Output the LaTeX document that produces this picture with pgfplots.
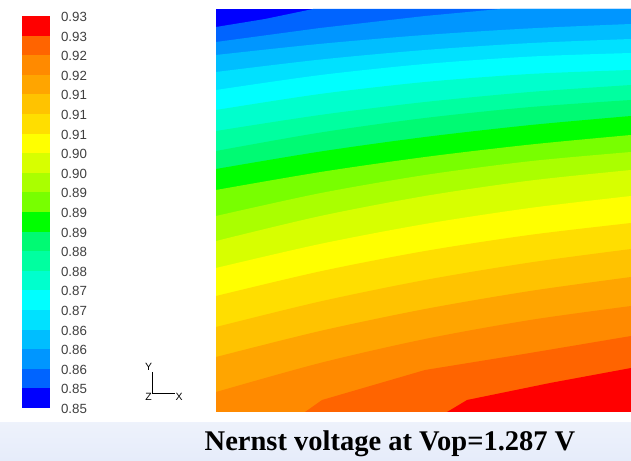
\documentclass[border=0pt]{standalone}
\usepackage{pgfplots}
\pgfplotsset{compat=1.18}
\usepackage{fontspec}
\setmainfont{Liberation Serif}
\setsansfont{Liberation Sans}
\definecolor{c0}{RGB}{0,0,255}
\definecolor{c1}{RGB}{0,100,255}
\definecolor{c2}{RGB}{0,150,255}
\definecolor{c3}{RGB}{0,190,255}
\definecolor{c4}{RGB}{0,225,255}
\definecolor{c5}{RGB}{0,255,255}
\definecolor{c6}{RGB}{0,255,205}
\definecolor{c7}{RGB}{0,255,160}
\definecolor{c8}{RGB}{0,250,115}
\definecolor{c9}{RGB}{0,255,0}
\definecolor{c10}{RGB}{120,255,0}
\definecolor{c11}{RGB}{170,255,0}
\definecolor{c12}{RGB}{215,255,0}
\definecolor{c13}{RGB}{255,255,0}
\definecolor{c14}{RGB}{255,222,0}
\definecolor{c15}{RGB}{255,195,0}
\definecolor{c16}{RGB}{255,165,0}
\definecolor{c17}{RGB}{255,138,0}
\definecolor{c18}{RGB}{255,100,0}
\definecolor{c19}{RGB}{255,0,0}
\definecolor{bgblue}{RGB}{230,236,250}
\begin{document}
\begin{tikzpicture}[x=1pt,y=1pt]
\path[use as bounding box] (0,0) rectangle (631,460);
\fill[white] (0,0) rectangle (631,460);
\shade[top color=bgblue!70!white, bottom color=bgblue] (0,0) rectangle (631,37);
% colour scale
\begin{axis}[at={(22pt,52pt)}, anchor=south west, width=28pt, height=392pt, scale only axis,
  xmin=0, xmax=1, ymin=0, ymax=20,
  axis line style={draw=none}, tick style={draw=none}, major tick length=0pt,
  xtick=\empty, ytick={0,1,...,20}, yticklabel pos=right,
  yticklabels={0.85,0.85,0.86,0.86,0.86,0.87,0.87,0.88,0.88,0.89,0.89,0.89,0.90,0.90,0.91,0.91,0.91,0.92,0.92,0.93,0.93},
  yticklabel style={anchor=west, xshift=7.5pt, yshift=-1pt, font=\sffamily\fontsize{13.3}{14}\selectfont, text=black!75}]
\addplot[fill=c0,draw=none] coordinates {(0,0) (1,0) (1,1) (0,1)} -- cycle;
\addplot[fill=c1,draw=none] coordinates {(0,1) (1,1) (1,2) (0,2)} -- cycle;
\addplot[fill=c2,draw=none] coordinates {(0,2) (1,2) (1,3) (0,3)} -- cycle;
\addplot[fill=c3,draw=none] coordinates {(0,3) (1,3) (1,4) (0,4)} -- cycle;
\addplot[fill=c4,draw=none] coordinates {(0,4) (1,4) (1,5) (0,5)} -- cycle;
\addplot[fill=c5,draw=none] coordinates {(0,5) (1,5) (1,6) (0,6)} -- cycle;
\addplot[fill=c6,draw=none] coordinates {(0,6) (1,6) (1,7) (0,7)} -- cycle;
\addplot[fill=c7,draw=none] coordinates {(0,7) (1,7) (1,8) (0,8)} -- cycle;
\addplot[fill=c8,draw=none] coordinates {(0,8) (1,8) (1,9) (0,9)} -- cycle;
\addplot[fill=c9,draw=none] coordinates {(0,9) (1,9) (1,10) (0,10)} -- cycle;
\addplot[fill=c10,draw=none] coordinates {(0,10) (1,10) (1,11) (0,11)} -- cycle;
\addplot[fill=c11,draw=none] coordinates {(0,11) (1,11) (1,12) (0,12)} -- cycle;
\addplot[fill=c12,draw=none] coordinates {(0,12) (1,12) (1,13) (0,13)} -- cycle;
\addplot[fill=c13,draw=none] coordinates {(0,13) (1,13) (1,14) (0,14)} -- cycle;
\addplot[fill=c14,draw=none] coordinates {(0,14) (1,14) (1,15) (0,15)} -- cycle;
\addplot[fill=c15,draw=none] coordinates {(0,15) (1,15) (1,16) (0,16)} -- cycle;
\addplot[fill=c16,draw=none] coordinates {(0,16) (1,16) (1,17) (0,17)} -- cycle;
\addplot[fill=c17,draw=none] coordinates {(0,17) (1,17) (1,18) (0,18)} -- cycle;
\addplot[fill=c18,draw=none] coordinates {(0,18) (1,18) (1,19) (0,19)} -- cycle;
\addplot[fill=c19,draw=none] coordinates {(0,19) (1,19) (1,20) (0,20)} -- cycle;
\end{axis}
% contour field
\begin{axis}[at={(216pt,48pt)}, anchor=south west, width=415pt, height=403pt, scale only axis,
  xmin=0, xmax=415, ymin=0, ymax=403, hide axis, clip=true]
\addplot[fill=c0,draw=none] coordinates {(0,0) (0,403) (415,403) (415,0)} -- cycle;
\addplot[fill=c1,draw=none] coordinates {(0,385) (49,393) (97,403) (415,403)} \closedcycle;
\addplot[fill=c2,draw=none] coordinates {(0,370) (104,384) (209,396) (284,403) (415,403)} \closedcycle;
\addplot[fill=c3,draw=none,smooth] coordinates {(0,357) (104,368.1) (209,377) (314,383.6) (415,388)} \closedcycle;
\addplot[fill=c4,draw=none,smooth] coordinates {(0,340) (104,352.4) (209,362) (314,368.9) (415,373)} \closedcycle;
\addplot[fill=c5,draw=none,smooth] coordinates {(0,322) (104,336.9) (209,348) (314,355.4) (415,359)} \closedcycle;
\addplot[fill=c6,draw=none,smooth] coordinates {(0,302) (104,318) (209,330) (314,338) (415,342)} \closedcycle;
\addplot[fill=c7,draw=none,smooth] coordinates {(0,281) (104,297) (209,310) (314,320) (415,327)} \closedcycle;
\addplot[fill=c8,draw=none,smooth] coordinates {(0,261) (104,279.4) (209,294) (314,304.9) (415,312)} \closedcycle;
\addplot[fill=c9,draw=none,smooth] coordinates {(0,243) (104,260.4) (209,275) (314,286.9) (415,296)} \closedcycle;
\addplot[fill=c10,draw=none,smooth] coordinates {(0,222) (104,239.9) (209,255) (314,267.4) (415,277)} \closedcycle;
\addplot[fill=c11,draw=none,smooth] coordinates {(0,196) (104,218.8) (209,237) (314,250.8) (415,260)} \closedcycle;
\addplot[fill=c12,draw=none,smooth] coordinates {(0,171) (104,195.9) (209,216) (314,231.4) (415,242)} \closedcycle;
\addplot[fill=c13,draw=none,smooth] coordinates {(0,144) (104,168) (209,188) (314,204) (415,216)} \closedcycle;
\addplot[fill=c14,draw=none,smooth] coordinates {(0,116) (104,140.6) (209,161) (314,177.1) (415,189)} \closedcycle;
\addplot[fill=c15,draw=none,smooth] coordinates {(0,85) (104,110.5) (209,132) (314,149.5) (415,163)} \closedcycle;
\addplot[fill=c16,draw=none,smooth] coordinates {(0,55) (104,81) (209,103) (314,121) (415,135)} \closedcycle;
\addplot[fill=c17,draw=none,smooth] coordinates {(0,20) (104,49) (209,73) (314,92) (415,106)} \closedcycle;
\addplot[fill=c18,draw=none] coordinates {(89,0) (106,12) (209,42) (314,59) (415,76)} \closedcycle;
\addplot[fill=c19,draw=none] coordinates {(231,0) (251,12) (334,29) (415,44)} \closedcycle;
\end{axis}
% coordinate triad
\draw[black, line width=0.6pt] (152,88) -- (152,67) -- (175,67);
\node[font=\sffamily\fontsize{10.5}{10}\selectfont, inner sep=0pt] at (148.5,93) {Y};
\node[font=\sffamily\fontsize{10.5}{10}\selectfont, inner sep=0pt] at (148.5,63) {Z};
\node[font=\sffamily\fontsize{10.5}{10}\selectfont, inner sep=0pt] at (179,63) {X};
% title
\node[font=\bfseries\fontsize{28.5}{30}\selectfont, inner sep=0pt] at (390,16) {Nernst voltage at Vop=1.287 V};
\end{tikzpicture}
\end{document}
